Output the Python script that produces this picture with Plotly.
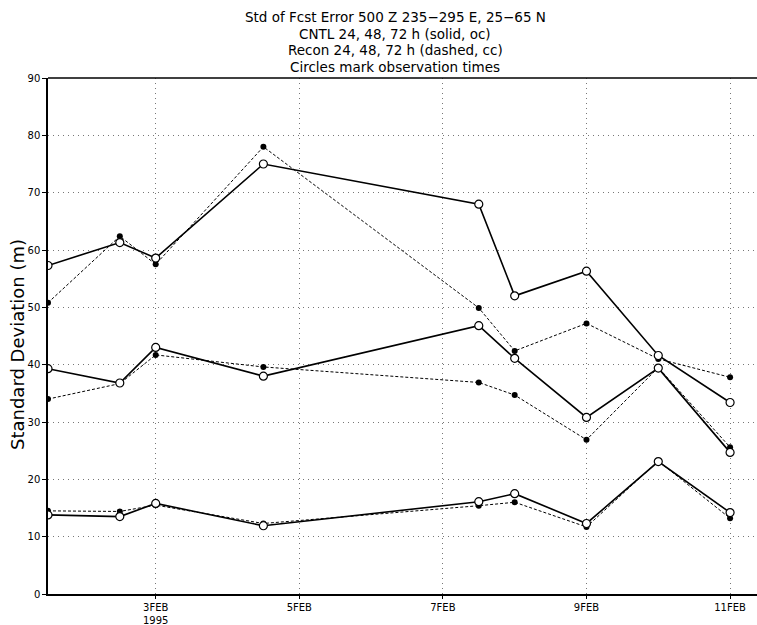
import plotly.graph_objects as go

times = ["1995-02-01 12:00", "1995-02-02 12:00", "1995-02-03 00:00", "1995-02-04 12:00",
         "1995-02-07 12:00", "1995-02-08 00:00", "1995-02-09 00:00", "1995-02-10 00:00",
         "1995-02-11 00:00"]

cntl_72 = [57.3, 61.3, 58.6, 75.0, 68.0, 52.0, 56.3, 41.6, 33.4]
recon_72 = [50.8, 62.4, 57.5, 78.0, 49.9, 42.4, 47.2, 41.0, 37.8]
cntl_48 = [39.3, 36.8, 43.0, 38.0, 46.8, 41.1, 30.8, 39.4, 24.7]
recon_48 = [34.0, 36.7, 41.7, 39.6, 36.9, 34.7, 26.9, 39.5, 25.6]
cntl_24 = [13.8, 13.5, 15.8, 11.9, 16.1, 17.5, 12.3, 23.1, 14.2]
recon_24 = [14.5, 14.4, 15.5, 12.3, 15.4, 16.0, 11.7, 23.2, 13.2]

tick_dates = ["1995-02-03", "1995-02-05", "1995-02-07", "1995-02-09", "1995-02-11"]
tick_text = ["3FEB<br>1995", "5FEB", "7FEB", "9FEB", "11FEB"]
y_ticks = [0, 10, 20, 30, 40, 50, 60, 70, 80, 90]

title_lines = ["Std of Fcst Error 500 Z 235\u2212295 E, 25\u221265 N",
               "CNTL 24, 48, 72 h (solid, oc)",
               "Recon 24, 48, 72 h (dashed, cc)",
               "Circles mark observation times"]

FONT = "DejaVu Sans"
L, R, T, B = 48, 0, 78, 31
W, H = 757, 625
PW, PH = W - L - R, H - T - B

fig = go.Figure()

for vals in [recon_72, recon_48, recon_24]:
    fig.add_trace(go.Scatter(
        x=times, y=vals, mode="lines+markers",
        line=dict(color="black", width=1, dash="3px,2px"),
        marker=dict(symbol="circle", size=6, color="black"),
        showlegend=False))

for vals in [cntl_72, cntl_48, cntl_24]:
    fig.add_trace(go.Scatter(
        x=times, y=vals, mode="lines+markers",
        line=dict(color="black", width=1.6),
        marker=dict(symbol="circle", size=8, color="white",
                    line=dict(color="black", width=1.2)),
        showlegend=False))

title_y = [17, 34, 50, 67]
for txt, yy in zip(title_lines, title_y):
    fig.add_annotation(text=txt, xref="paper", yref="paper",
                       x=(395 - L) / PW, y=1 + (T - yy) / PH,
                       showarrow=False, xanchor="center", yanchor="middle",
                       font=dict(family=FONT, size=13.5, color="black"))

fig.add_annotation(text="Standard Deviation (m)", xref="paper", yref="paper",
                   x=(17 - L) / PW, y=1 - (345 - T) / PH, textangle=-90, showarrow=False,
                   xanchor="center", yanchor="middle",
                   font=dict(family=FONT, size=18, color="black"))

fig.update_layout(
    width=W, height=H,
    margin=dict(l=L, r=R, t=T, b=B),
    paper_bgcolor="white", plot_bgcolor="white",
    font=dict(family=FONT, color="black", size=11),
)

fig.update_xaxes(
    type="date", automargin=False,
    range=["1995-02-01 12:00", "1995-02-11 09:00"],
    tickvals=tick_dates, ticktext=tick_text,
    showgrid=True, gridcolor="#777777", griddash="1px,4px", gridwidth=1,
    showline=True, linecolor="black", linewidth=1.5, mirror=False,
    ticks="outside", ticklen=3, tickcolor="black",
    tickfont=dict(family=FONT, size=10), zeroline=False,
)
fig.update_yaxes(
    range=[0, 90], tickvals=y_ticks, automargin=False,
    showgrid=True, gridcolor="#777777", griddash="1px,4px", gridwidth=1,
    showline=True, linecolor="black", linewidth=1.5,
    ticks="outside", ticklen=4, tickcolor="black",
    tickfont=dict(family=FONT, size=10), zeroline=False,
)

fig.add_shape(type="line", xref="paper", yref="paper", x0=0, x1=1, y0=1, y1=1,
              line=dict(color="black", width=1.5))

fig.write_html("out.html", config={"displayModeBar": False},
               post_script="document.body.style.margin='0';document.body.style.overflow='hidden';")
